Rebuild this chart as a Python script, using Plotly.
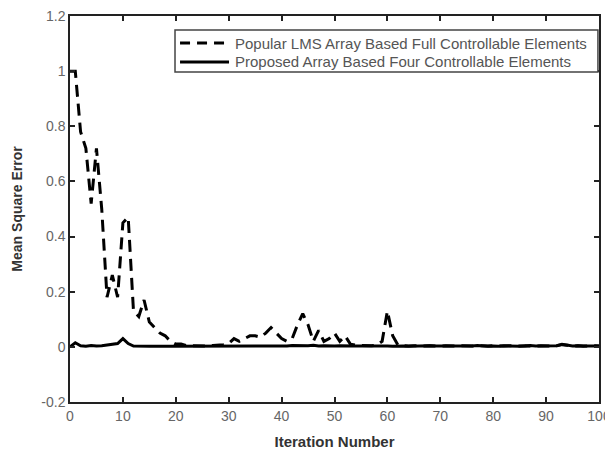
import plotly.graph_objects as go

iterations = list(range(0, 101))

lms_mse = [1.0, 1.0, 0.78, 0.72, 0.52, 0.72, 0.50, 0.18, 0.26, 0.18,
           0.45, 0.47, 0.13, 0.11, 0.17, 0.09, 0.07, 0.05, 0.04, 0.02,
           0.01, 0.01, 0.005, 0.004, 0.003, 0.004, 0.003, 0.005, 0.006, 0.008,
           0.012, 0.03, 0.02, 0.03, 0.04, 0.04, 0.035, 0.05, 0.07, 0.05,
           0.03, 0.02, 0.03, 0.08, 0.12, 0.08, 0.02, 0.06, 0.02, 0.03,
           0.05, 0.02, 0.04, 0.01, 0.006, 0.005, 0.004, 0.004, 0.006, 0.02,
           0.13, 0.04, 0.006, 0.004, 0.003, 0.004, 0.003, 0.003, 0.004, 0.003,
           0.003, 0.004, 0.003, 0.003, 0.004, 0.003, 0.003, 0.004, 0.003, 0.003,
           0.004, 0.003, 0.003, 0.004, 0.003, 0.003, 0.004, 0.003, 0.003, 0.004,
           0.003, 0.003, 0.004, 0.008, 0.006, 0.003, 0.004, 0.003, 0.003, 0.004,
           0.003]

proposed_mse = [0.0, 0.015, 0.004, 0.002, 0.005, 0.003, 0.004, 0.006, 0.008, 0.012,
                0.03, 0.012, 0.003, 0.002, 0.003, 0.002, 0.002, 0.003, 0.002, 0.002,
                0.002, 0.003, 0.002, 0.002, 0.003, 0.002, 0.003, 0.002, 0.002, 0.003,
                0.002, 0.003, 0.002, 0.004, 0.003, 0.002, 0.003, 0.004, 0.003, 0.002,
                0.004, 0.003, 0.005, 0.004, 0.003, 0.004, 0.006, 0.003, 0.004, 0.003,
                0.003, 0.004, 0.003, 0.002, 0.003, 0.003, 0.002, 0.003, 0.003, 0.004,
                0.003, 0.002, 0.003, 0.003, 0.002, 0.003, 0.002, 0.003, 0.004, 0.003,
                0.003, 0.002, 0.003, 0.004, 0.003, 0.002, 0.003, 0.005, 0.003, 0.002,
                0.003, 0.002, 0.004, 0.003, 0.003, 0.002, 0.003, 0.005, 0.003, 0.003,
                0.002, 0.003, 0.004, 0.009, 0.005, 0.003, 0.004, 0.002, 0.003, 0.003,
                0.003]

series_names = ["Popular LMS Array Based Full Controllable Elements",
                "Proposed Array Based Four Controllable Elements"]

x_ticks = [0, 10, 20, 30, 40, 50, 60, 70, 80, 90, 100]
y_ticks = [-0.2, 0, 0.2, 0.4, 0.6, 0.8, 1, 1.2]
y_tick_text = ["-0.2", "0", "0.2", "0.4", "0.6", "0.8", "1", "1.2"]

dash_style = "12px,7px"

fig = go.Figure()
fig.add_trace(go.Scatter(
    x=iterations, y=lms_mse, mode="lines", name=series_names[0],
    line=dict(color="black", width=3, dash=dash_style),
))
fig.add_trace(go.Scatter(
    x=iterations, y=proposed_mse, mode="lines", name=series_names[1],
    line=dict(color="black", width=3),
))

axis_common = dict(
    showgrid=False, zeroline=False, showline=True, linecolor="#222",
    linewidth=1.5, mirror="ticks", ticks="inside", ticklen=5, tickwidth=1.5,
    tickcolor="#222", automargin=False, ticklabeloverflow="allow",
    tickfont=dict(family="Liberation Sans, Arial", size=14, color="#666"),
)

# legend box drawn in paper coordinates (compact row spacing like the original)
lx0, lx1, ly0, ly1 = 0.1985, 0.998, 0.855, 0.9637
row_y = [0.930, 0.881]
sample_x0, sample_x1, text_x = 0.208, 0.3006, 0.308

shapes = [dict(type="rect", xref="paper", yref="paper", x0=lx0, x1=lx1, y0=ly0, y1=ly1,
               line=dict(color="#444", width=1.5), fillcolor="white", layer="above")]
shapes.append(dict(type="line", xref="paper", yref="paper", x0=sample_x0, x1=sample_x1,
                   y0=row_y[0], y1=row_y[0], line=dict(color="black", width=3, dash="10px,7px"),
                   layer="above"))
shapes.append(dict(type="line", xref="paper", yref="paper", x0=sample_x0, x1=sample_x1,
                   y0=row_y[1], y1=row_y[1], line=dict(color="black", width=3), layer="above"))
annotations = [dict(xref="paper", yref="paper", x=text_x, y=ry, text=nm, showarrow=False,
                    xanchor="left", yanchor="middle",
                    font=dict(family="Liberation Sans, Arial", size=15, color="#555"))
               for nm, ry in zip(series_names, row_y)]

# page body has an 8px margin, so the figure is placed at (8, 8)
fig.update_layout(
    width=605, height=442,
    margin=dict(l=62, r=14, t=8, b=48),
    paper_bgcolor="white", plot_bgcolor="white",
    font=dict(family="Liberation Sans, Arial", color="#333"),
    xaxis=dict(range=[0, 100], tickvals=x_ticks,
               title=dict(text="<b>Iteration Number</b>", font=dict(size=15, color="#333")),
               **axis_common),
    yaxis=dict(range=[-0.2, 1.2], tickvals=y_ticks, ticktext=y_tick_text,
               title=dict(text="<b>Mean Square Error</b>", font=dict(size=14, color="#333")),
               **axis_common),
    shapes=shapes, annotations=annotations,
    showlegend=False,
)

fig.write_html("out.html")
